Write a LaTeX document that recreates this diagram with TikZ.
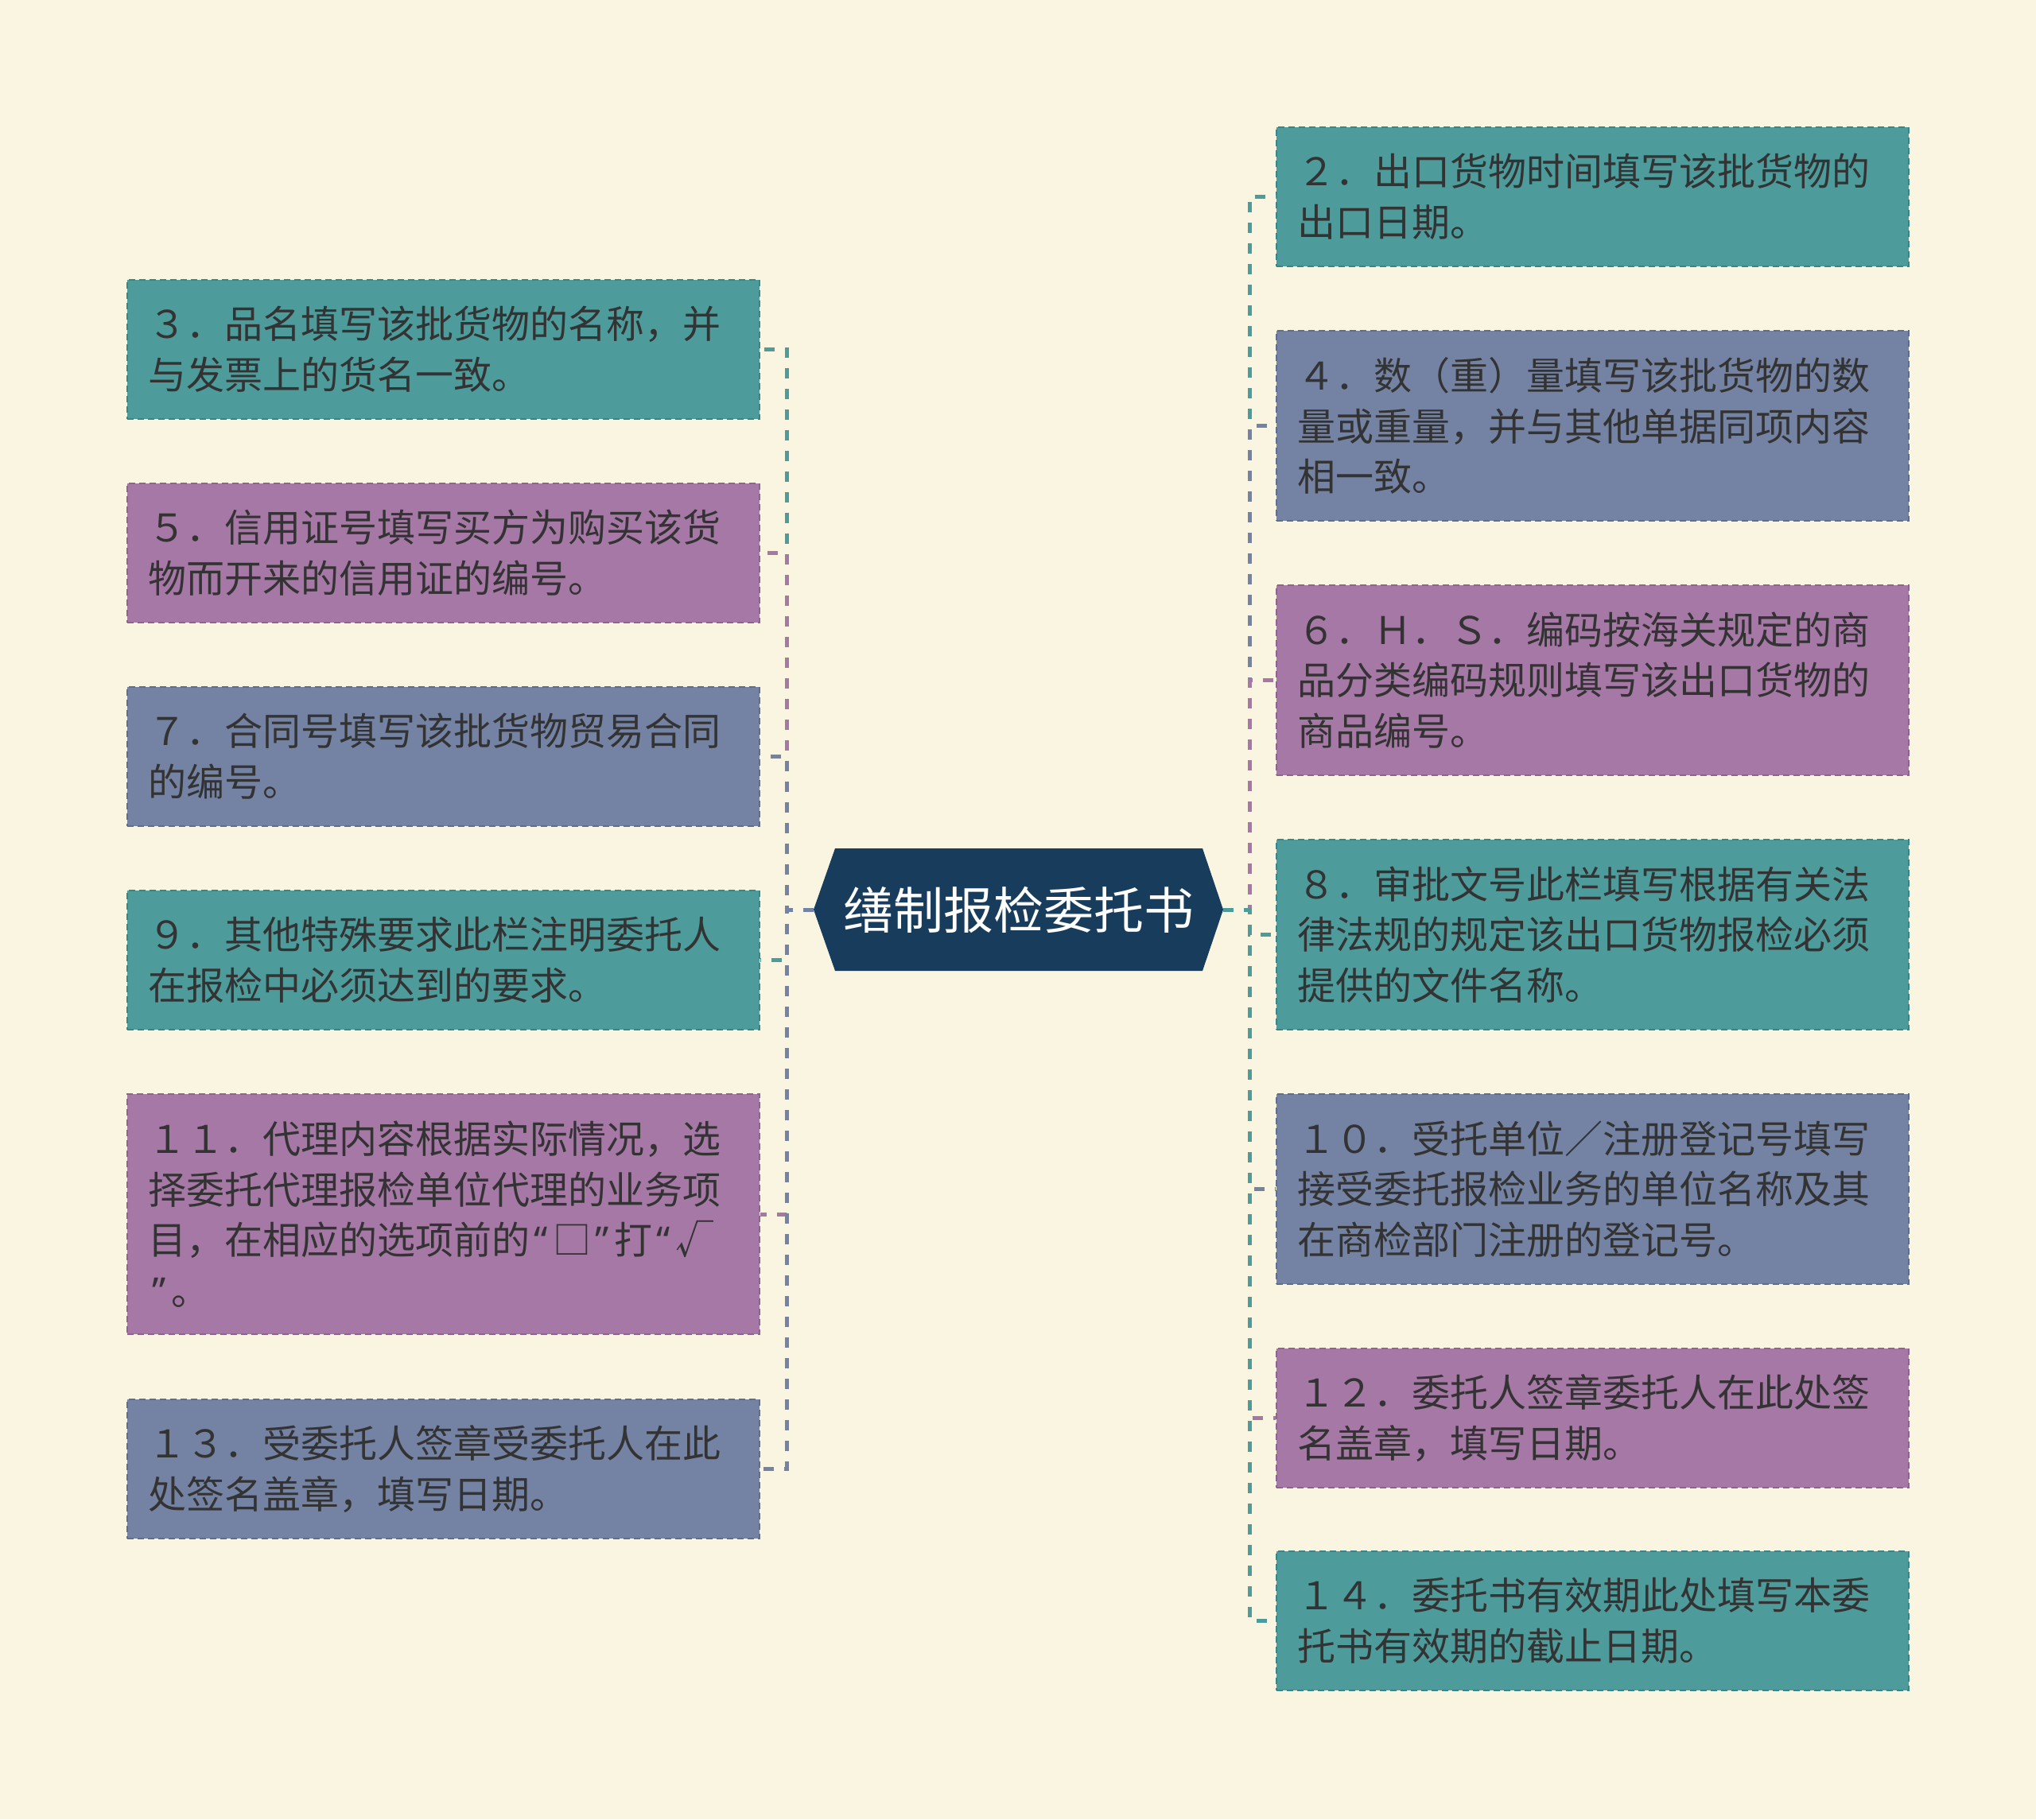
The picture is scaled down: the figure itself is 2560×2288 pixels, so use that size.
\documentclass[tikz,border=0pt]{standalone}
\usepackage{fontspec}
\newfontfamily\cjk{Noto Sans CJK SC}
\newfontfamily\lat{Noto Sans}
\newcommand{\myLQ}{\makebox[14.5pt][c]{\lat “}}
\newcommand{\myRQ}{\makebox[14.5pt][c]{\lat ”}}
\definecolor{cbg}{HTML}{F9F5E0}
\definecolor{cteal}{HTML}{4D9B9B}
\definecolor{ctealdark}{HTML}{3A8585}
\definecolor{cpurple}{HTML}{A678A6}
\definecolor{cpurpledark}{HTML}{8F6390}
\definecolor{cslate}{HTML}{7483A3}
\definecolor{cslatedark}{HTML}{5F6E8E}
\definecolor{cnavy}{HTML}{173C5C}
\definecolor{ctext}{HTML}{333333}
\tikzset{
  item/.style={rectangle, line width=1pt, dash pattern=on 4pt off 2.5pt,
    minimum width=397.5pt, text width=371.5pt, inner xsep=13pt, inner ysep=0pt,
    align=left, font=\cjk\fontsize{24}{31.85}\selectfont, text=ctext},
  tealbox/.style={item, fill=cteal, draw=ctealdark},
  purplebox/.style={item, fill=cpurple, draw=cpurpledark},
  slatebox/.style={item, fill=cslate, draw=cslatedark},
  two/.style={minimum height=87.5pt},
  three/.style={minimum height=119.5pt},
  four/.style={minimum height=151pt},
  conn/.style={line width=2.5pt, dash pattern=on 6.5pt off 6.5pt},
}
\begin{document}
\begin{tikzpicture}[x=0.5pt,y=-0.5pt]
\fill[cbg] (0,0) rectangle (2560,2288);
\useasboundingbox (0,0) rectangle (2560,2288);

% left boxes
\node[tealbox, two] (b3) at (557.5,439) {３．品名填写该批货物的名称，并\\与发票上的货名一致。};
\node[purplebox, two] (b5) at (557.5,695.5) {５．信用证号填写买方为购买该货\\物而开来的信用证的编号。};
\node[slatebox, two] (b7) at (557.5,951) {７．合同号填写该批货物贸易合同\\的编号。};
\node[tealbox, two] (b9) at (557.5,1207.5) {９．其他特殊要求此栏注明委托人\\在报检中必须达到的要求。};
\node[purplebox, four] (b11) at (557.5,1527) {１１．代理内容根据实际情况，选\\择委托代理报检单位代理的业务项\\目，在相应的选项前的\myLQ□\myRQ 打\myLQ√\\\myRQ 。};
\node[slatebox, two] (b13) at (557.5,1847.5) {１３．受委托人签章受委托人在此\\处签名盖章，填写日期。};

% right boxes
\node[tealbox, two] (b2) at (2002.5,247.5) {２．出口货物时间填写该批货物的\\出口日期。};
\node[slatebox, three] (b4) at (2002.5,535.5) {４．数（重）量填写该批货物的数\\量或重量，并与其他单据同项内容\\相一致。};
\node[purplebox, three] (b6) at (2002.5,855.5) {６．Ｈ．Ｓ．编码按海关规定的商\\品分类编码规则填写该出口货物的\\商品编号。};
\node[tealbox, three] (b8) at (2002.5,1175.5) {８．审批文号此栏填写根据有关法\\律法规的规定该出口货物报检必须\\提供的文件名称。};
\node[slatebox, three] (b10) at (2002.5,1495.5) {１０．受托单位／注册登记号填写\\接受委托报检业务的单位名称及其\\在商检部门注册的登记号。};
\node[purplebox, two] (b12) at (2002.5,1783.5) {１２．委托人签章委托人在此处签\\名盖章，填写日期。};
\node[tealbox, two] (b14) at (2002.5,2038.5) {１４．委托书有效期此处填写本委\\托书有效期的截止日期。};

% center
\fill[cnavy] (1023,1144) -- (1050,1067) -- (1512,1067) -- (1538,1144) -- (1512,1221) -- (1050,1221) -- cycle;
\node[font=\cjk\fontsize{31.5}{36}\selectfont, text=white] (c) at (1280.5,1144) {缮制报检委托书};
\coordinate (cl) at (1023,1144);
\coordinate (cr) at (1538,1144);

% left connectors
\draw[conn, cteal] (cl) -- ++(-34,0) |- (b3.east);
\draw[conn, cpurple] (cl) -- ++(-34,0) |- (b5.east);
\draw[conn, cslate] (cl) -- ++(-34,0) |- (b7.east);
\draw[conn, cteal] (cl) -- ++(-34,0) |- (b9.east);
\draw[conn, cpurple] (cl) -- ++(-34,0) |- (b11.east);
\draw[conn, cslate] (cl) -- ++(-34,0) |- (b13.east);

% right connectors
\draw[conn, cteal] (cr) -- ++(33,0) |- (b2.west);
\draw[conn, cslate] (cr) -- ++(33,0) |- (b4.west);
\draw[conn, cpurple] (cr) -- ++(33,0) |- (b6.west);
\draw[conn, cteal] (cr) -- ++(33,0) |- (b8.west);
\draw[conn, cslate] (cr) -- ++(33,0) |- (b10.west);
\draw[conn, cpurple] (cr) -- ++(33,0) |- (b12.west);
\draw[conn, cteal] (cr) -- ++(33,0) |- (b14.west);
\end{tikzpicture}
\end{document}
